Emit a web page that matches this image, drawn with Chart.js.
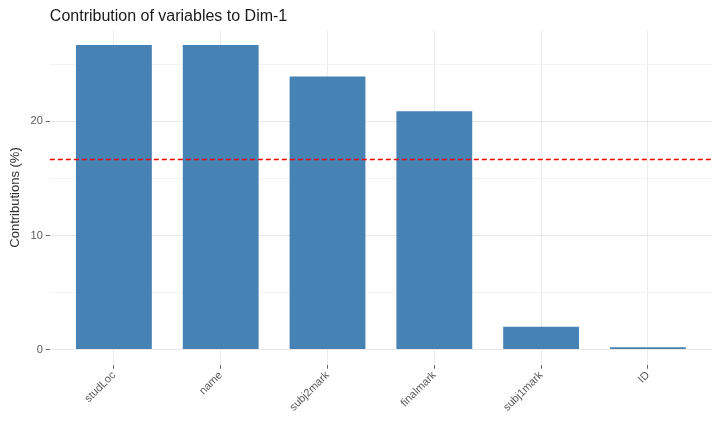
<!DOCTYPE html>
<html>
<head>
<meta charset="utf-8">
<script src="https://cdn.jsdelivr.net/npm/chart.js@4.4.1/dist/chart.umd.min.js"></script>
<style>
  html, body { margin: 0; padding: 0; background: #fff; }
  #wrap { width: 720px; height: 425px; }
</style>
</head>
<body>
<div id="wrap"><canvas id="c"></canvas></div>
<script>
// contributions of variables to Dim-1 (%)
var variables = ['studLoc', 'name', 'subj2mark', 'finalmark', 'subj1mark', 'ID'];
var contrib = [26.7, 26.7, 23.95, 20.9, 2.0, 0.2];
var expected = 100 / 6;  // reference line
var yTicks = [0, 5, 10, 15, 20, 25];

var refLine = {
    id: 'refLine',
    afterDatasetsDraw: function(chart) {
        var ctx = chart.ctx, a = chart.chartArea;
        var y = Math.round(chart.scales.y.getPixelForValue(expected)) + 0.5;
        ctx.save();
        ctx.strokeStyle = '#ff0000';
        ctx.lineWidth = 1.3;
        ctx.setLineDash([5, 3]);
        ctx.beginPath();
        ctx.moveTo(a.left, y);
        ctx.lineTo(a.right, y);
        ctx.stroke();
        ctx.restore();
    }
};

var ctx = document.getElementById('c').getContext('2d');

var chart = new Chart(ctx, {
    type: 'bar',
    data: {
        datasets: [{
            label: 'Contributions',
            backgroundColor: 'rgb(70, 130, 180)',
            data: contrib.map(function(v, i) { return {x: i + 1, y: v}; }),
            categoryPercentage: 1,
            barPercentage: 0.71
        }]
    },
    options: {
        responsive: true,
        maintainAspectRatio: false,
        animation: false,
        layout: { padding: { left: 8, right: 8, top: 0, bottom: 11 } },
        plugins: {
            legend: { display: false },
            tooltip: { enabled: false },
            title: {
                display: true,
                text: 'Contribution of variables to Dim-1',
                align: 'start',
                fullSize: false,
                color: '#1a1a1a',
                font: { family: 'Liberation Sans', size: 16, weight: 'normal' },
                padding: { top: 7, bottom: 4 }
            }
        },
        scales: {
            x: {
                type: 'linear',
                min: 0.4,
                max: 6.6,
                offset: false,
                afterBuildTicks: function(s) {
                    s.ticks = variables.map(function(_, i) { return {value: i + 1}; });
                },
                ticks: {
                    autoSkip: false,
                    minRotation: 45,
                    maxRotation: 45,
                    color: '#5a5a5a',
                    font: { family: 'Liberation Sans', size: 11 },
                    padding: 0,
                    callback: function(v) { return variables[v - 1]; }
                },
                grid: {
                    offset: false,
                    color: '#ececec',
                    tickColor: '#666',
                    tickLength: 4
                },
                border: { display: false }
            },
            y: {
                min: -1.33,
                max: 28,
                afterBuildTicks: function(s) {
                    s.ticks = yTicks.map(function(v) { return {value: v}; });
                },
                ticks: {
                    color: '#5a5a5a',
                    font: { family: 'Liberation Sans', size: 11 },
                    padding: 3,
                    callback: function(v) { return v % 10 === 0 ? v : ''; }
                },
                grid: {
                    color: function(c) { return c.tick && c.tick.value % 10 === 0 ? '#e8e8e8' : '#f3f3f3'; },
                    tickColor: function(c) { return c.tick && c.tick.value % 10 === 0 ? '#666' : 'rgba(0,0,0,0)'; },
                    tickLength: 4
                },
                border: { display: false },
                title: {
                    display: true,
                    text: 'Contributions (%)',
                    color: '#333',
                    font: { family: 'Liberation Sans', size: 13 },
                    padding: { top: 0, bottom: 4 }
                }
            }
        }
    },
    plugins: [refLine]
});
</script>
</body>
</html>
